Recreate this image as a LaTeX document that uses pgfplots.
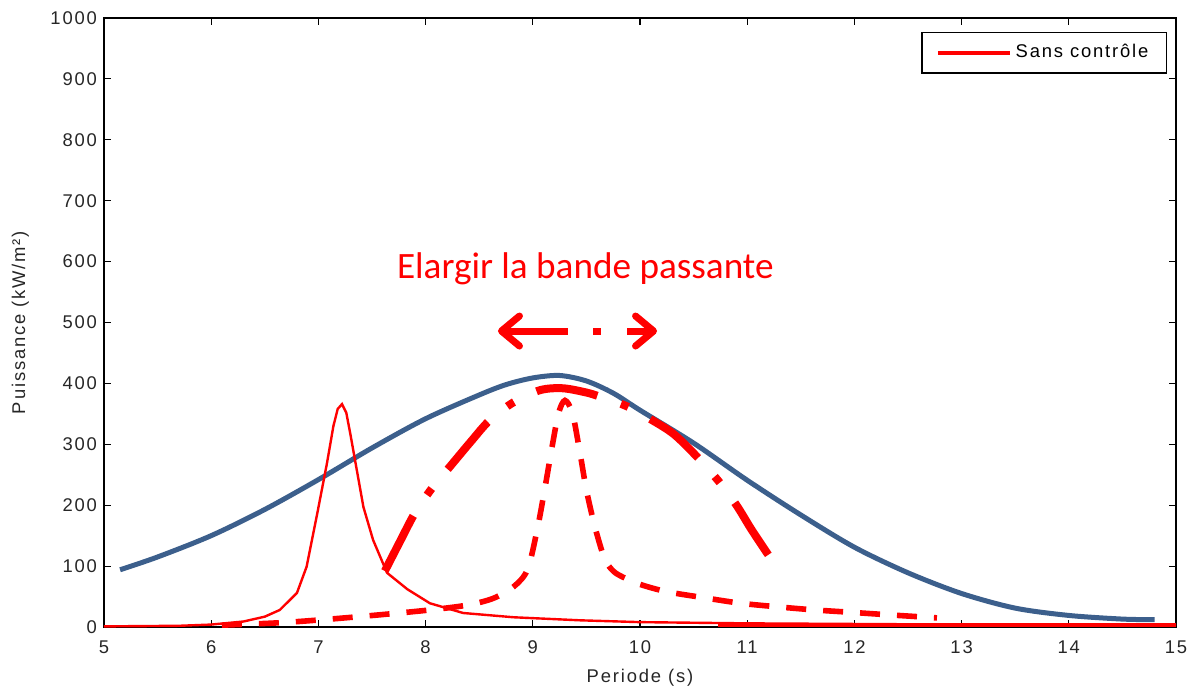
\documentclass[border=0pt]{standalone}
\usepackage{fontspec}
\setmainfont[LetterSpace=10]{Liberation Sans}
\newfontfamily\calib{Carlito}
\usepackage{pgfplots}
\pgfplotsset{compat=1.18}
\usetikzlibrary{arrows.meta}
\definecolor{curveblue}{RGB}{60,95,140}

\begin{document}
\begin{tikzpicture}
\useasboundingbox (-52pt,-32pt) rectangle (541.5pt,313.5pt);
\begin{axis}[
  scale only axis, width=536pt, height=304.5pt,
  xmin=5, xmax=15, ymin=0, ymax=1000,
  xtick={5,6,...,15}, ytick={0,100,...,1000},
  tick align=inside, tick pos=both, major tick length=3.5pt,
  axis line style={line width=0.6pt},
  every tick/.style={black, line width=0.6pt},
  tick label style={font=\fontsize{9.2}{11}\selectfont, text=black!85},
  xticklabel style={yshift=-3.5pt},
  /pgf/number format/assume math mode=true,
  /pgf/number format/1000 sep={},
  xlabel={Periode (s)}, ylabel={Puissance (kW/m²)},
  label style={font=\fontsize{9.2}{11}\selectfont, text=black!85},
  xlabel style={at={(axis description cs:0.5,-0.084)}, anchor=center},
  ylabel style={at={(axis description cs:-0.078,0.5)}, anchor=center},
  legend style={at={(axis description cs:0.9916,0.977)}, anchor=north east,
    draw=black, line width=0.6pt, font=\fontsize{9.2}{11}\selectfont,
    inner xsep=7pt, inner ysep=4pt},
  legend cell align=left,
  legend image code/.code={\draw[#1,line width=1.8pt] (0pt,0pt) -- (36pt,0pt);},
]
% courbe bleue
\addplot[curveblue, line width=2.5pt, smooth, forget plot] coordinates {
(5.15,94) (5.5,115) (6.0,150) (6.5,193) (7.0,242) (7.5,294) (8.0,342)
(8.5,381) (8.75,398) (9.0,409) (9.25,413) (9.5,404) (9.75,384) (10.0,356)
(10.5,302) (11.0,241) (11.5,184) (12.0,131) (12.5,89) (13.0,55) (13.5,31)
(14.0,19) (14.5,13) (14.8,12)
};
% sans controle
\addplot[red, line width=1.2pt] coordinates {
(5,1) (5.7,2) (6.0,4) (6.3,9) (6.5,17) (6.64,28) (6.8,56) (6.89,99)
(6.99,187) (7.08,269) (7.14,330) (7.18,358) (7.22,366) (7.26,352) (7.30,315)
(7.42,197) (7.51,143) (7.64,89) (7.83,62) (8.04,39) (8.35,23) (8.82,16)
(9.44,11) (10,8) (11,6) (12,5) (13,4) (14,3) (15,3)
};
\addlegendentry{Sans contrôle}
\addplot[red, line width=2pt, forget plot] coordinates {(10.73,3) (15,3)};
% pointilles
\addplot[red, line width=2.8pt, smooth, dash pattern=on 10pt off 8.5pt, forget plot] coordinates {
(6.1,3) (6.64,7) (7.11,13) (7.57,20) (8.04,28) (8.39,36) (8.63,47)
(8.82,66) (8.95,94) (9.04,159) (9.11,225) (9.18,296) (9.24,351) (9.3,372)
(9.37,351) (9.44,286) (9.50,225) (9.58,164) (9.67,112) (9.75,92) (9.84,82)
(10.0,70) (10.25,58) (10.6,48) (10.94,39) (11.29,33) (11.63,28)
(11.98,24) (12.32,20) (12.77,15)
};
% trait-point
\addplot[red, line width=4pt, smooth, dash pattern=on 31pt off 12.5pt on 4pt off 12.5pt, forget plot] coordinates {
(7.62,92) (7.76,140) (7.9,187) (8.06,228) (8.23,264) (8.42,304) (8.6,340)
(8.82,369) (9.07,389) (9.28,392) (9.5,385) (9.63,378) (9.87,363)
(10.11,340) (10.32,316) (10.54,278) (10.74,238) (10.9,200) (11.04,160)
(11.21,115)
};
\node[text=red, font=\calib\fontsize{18.6}{22}\selectfont] at (axis cs:9.49,589) {Elargir la bande passante};
\draw[red, line width=3.5pt, {Straight Barb[length=9pt, width=15pt, line cap=round, line join=round]}-] (axis cs:8.675,486) -- (axis cs:9.328,486);
\draw[red, line width=3.5pt] (axis cs:9.562,486) -- (axis cs:9.636,486);
\draw[red, line width=3.5pt, -{Straight Barb[length=9pt, width=15pt, line cap=round, line join=round]}] (axis cs:9.879,486) -- (axis cs:10.159,486);
\end{axis}
\end{tikzpicture}
\end{document}
